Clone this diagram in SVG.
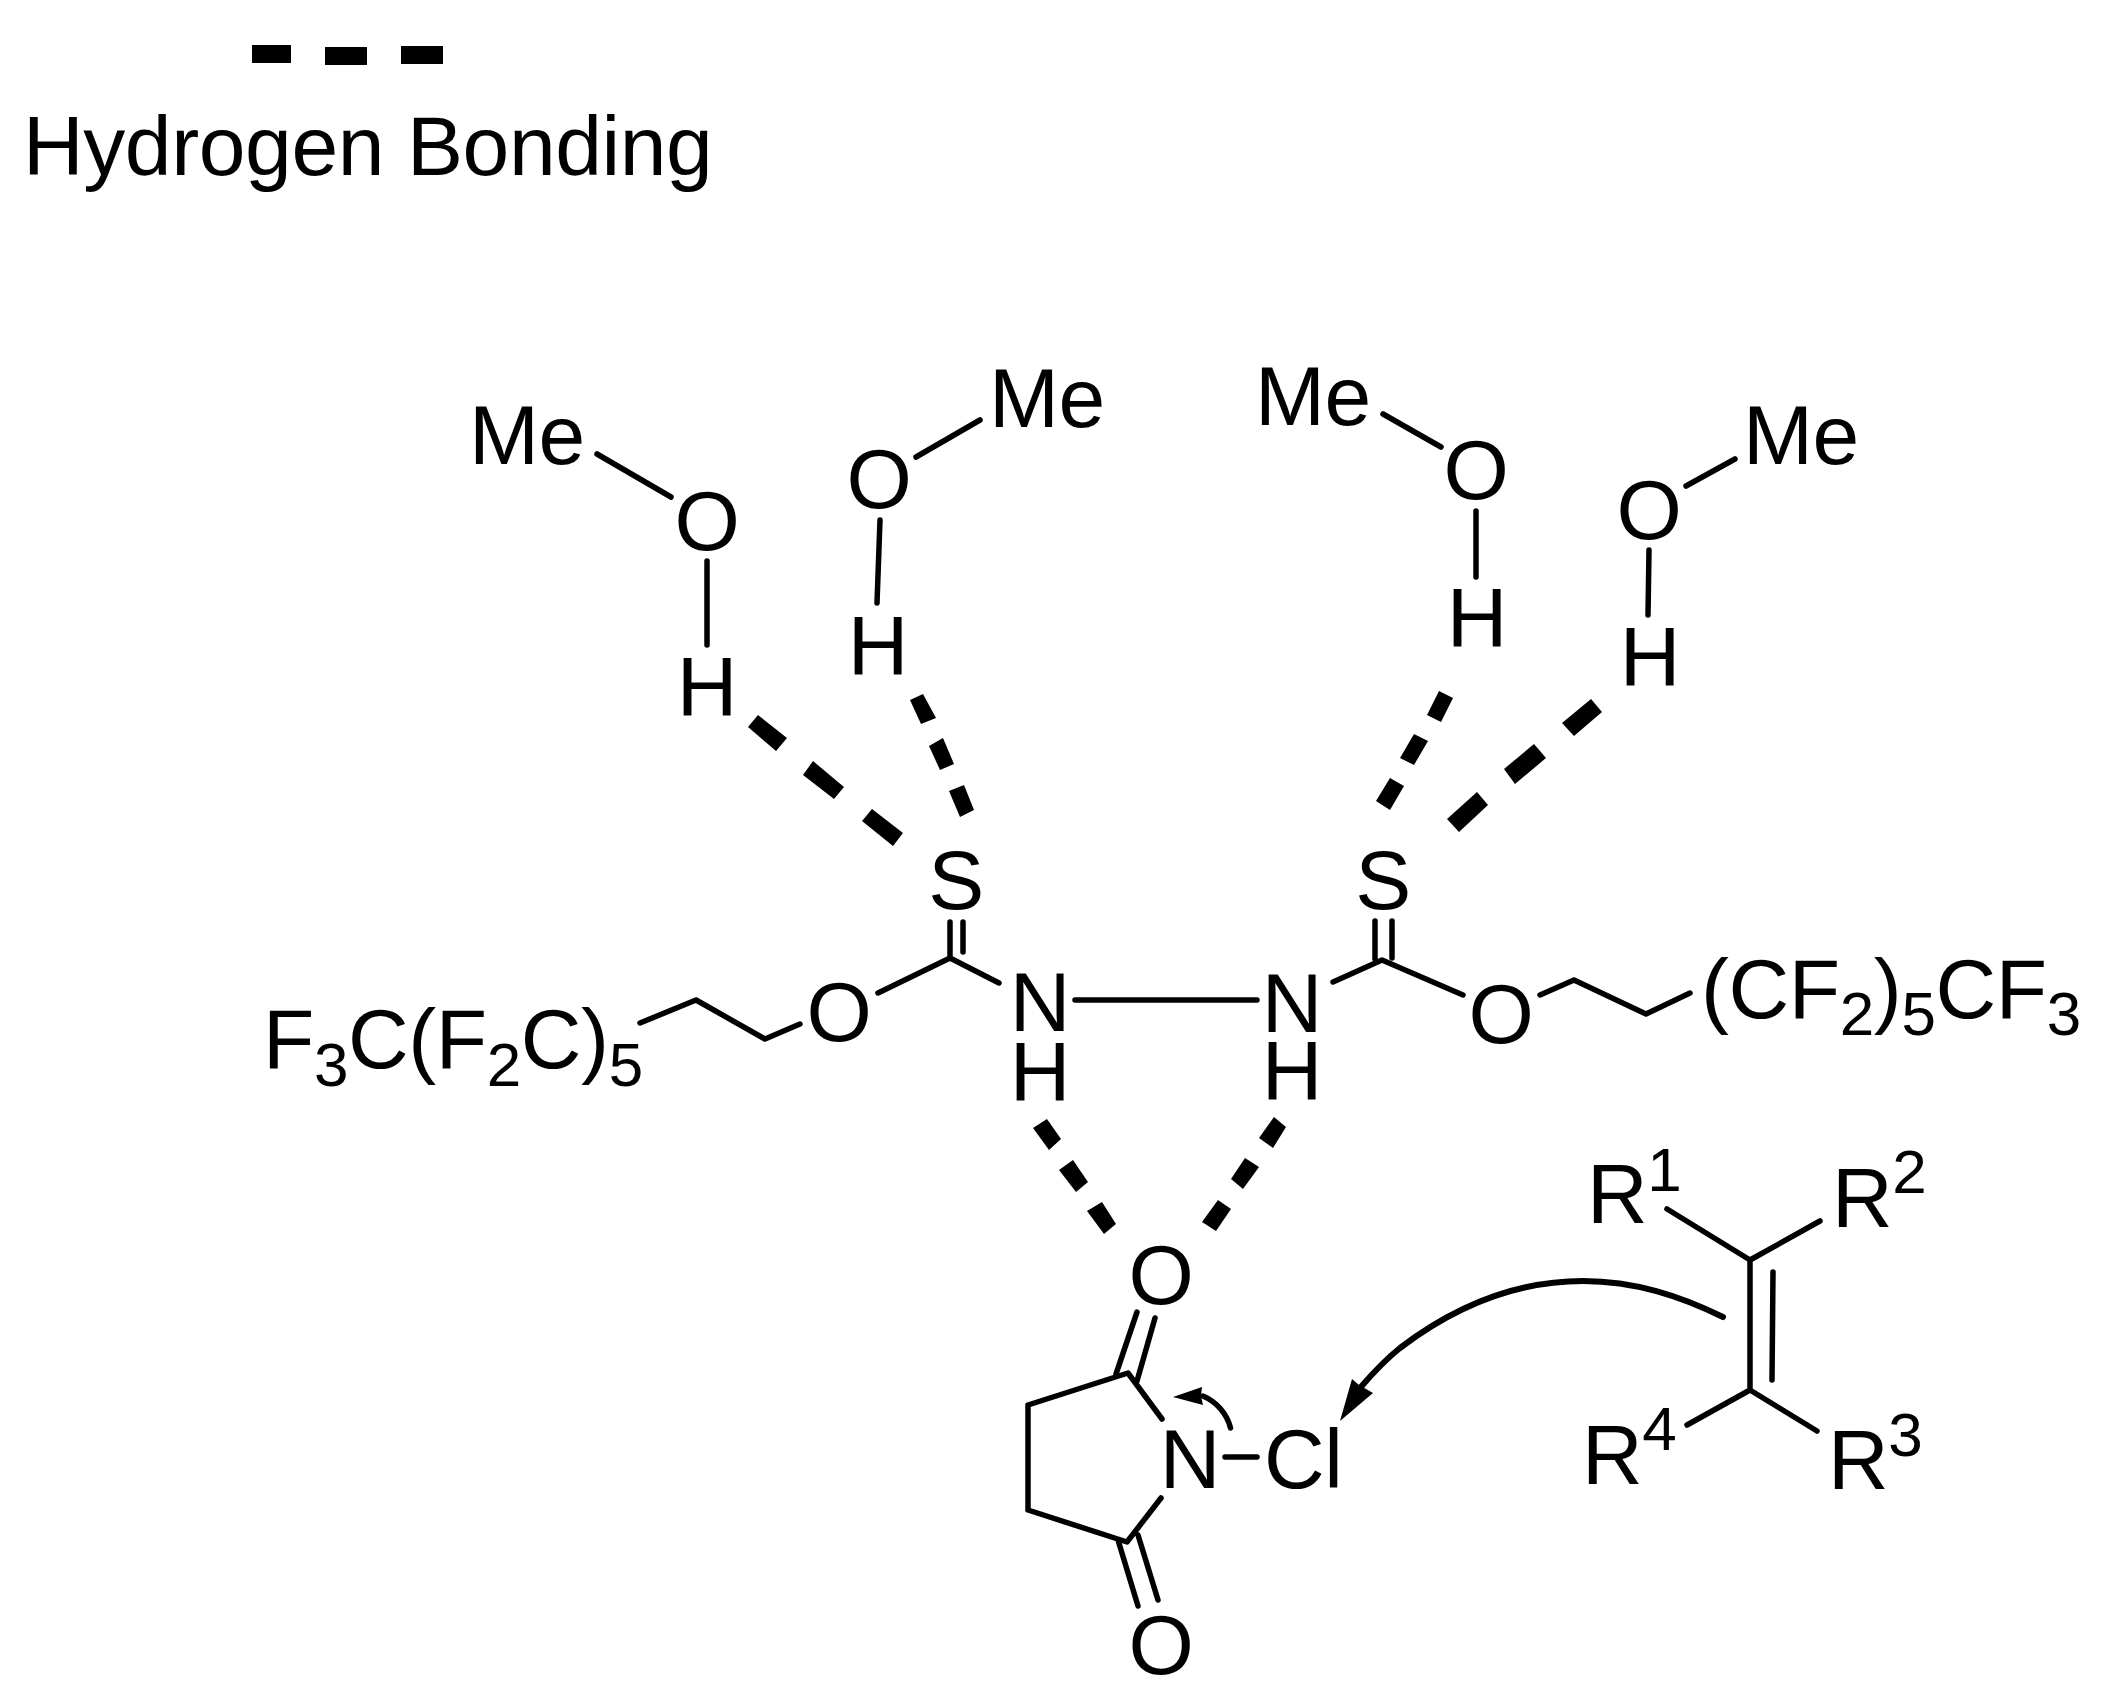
<svg xmlns="http://www.w3.org/2000/svg" width="2105" height="1700" viewBox="0 0 2105 1700">
<style>
text{font-family:"Liberation Sans",Arial,sans-serif;font-size:84px;letter-spacing:-.4px;fill:#000}
.m{text-anchor:middle}
.s{font-size:62px}
.b{fill:none;stroke:#000;stroke-width:5.5;stroke-linecap:round;stroke-linejoin:round}
.h{fill:#000;stroke:none}
</style>
<rect width="2105" height="1700" fill="#fff"/>
<g id="connectors">
<path class="b" d="M597 454L671 497M707 561V645M916 457L980 420M880 520L877 603"/>
<path class="b" d="M1383 414L1441 447M1476 511V577M1686 486L1735 459M1649 550L1648 615"/>
<path class="b" d="M640 1023L696 1000L765 1039L800 1024M878 993L950 958L999 983M950 922V958M963 922V952"/>
<path class="b" d="M1075 1000H1257"/>
<path class="b" d="M1333 982L1382 960L1463 995M1375 921V959M1392 921V958M1540 995L1574 980L1646 1014L1690 993"/>
<path class="b" d="M1137 1312L1116 1374M1155 1318L1137 1381M1028 1405V1510M1028 1405L1128 1373L1162 1419M1028 1510L1127 1542L1161 1498M1118 1540L1138 1606M1138 1535L1158 1600M1225 1457H1257"/>
<path class="b" d="M1667 1209L1750 1260L1820 1221M1750 1260V1389M1773 1272L1772 1380M1687 1425L1750 1390L1817 1431"/>
<path class="b" style="stroke-width:6" d="M1723 1317C1680 1296 1635 1281 1583 1281C1510 1281 1450 1310 1400 1348C1385 1360 1372 1374 1360 1388"/>
<polygon class="h" points="1340,1421 1352,1379 1359,1385 1373,1393"/>
<path class="b" d="M1230.5 1428C1227 1414 1217 1402 1203 1396"/>
<polygon class="h" points="1173,1397 1202,1387 1201,1396 1203,1405"/>
<g id="hbonds">
<polygon class="h" points="758,715 787,738 776,751 748,727"/>
<polygon class="h" points="813,761 844,787 834,799 803,775"/>
<polygon class="h" points="872,809 903,833 893,846 862,821"/>
<polygon class="h" points="923,694 936,718 921,724 910,700"/>
<polygon class="h" points="943,738 954,764 940,770 929,746"/>
<polygon class="h" points="964,785 974,810 960,817 949,791"/>
<polygon class="h" points="1439,691 1453,698 1441,722 1427,715"/>
<polygon class="h" points="1414,734 1428,741 1414,765 1400,758"/>
<polygon class="h" points="1390,778 1404,786 1390,810 1376,801"/>
<polygon class="h" points="1591,699 1602,712 1574,736 1562,723"/>
<polygon class="h" points="1534,744 1546,758 1515,784 1504,769"/>
<polygon class="h" points="1477,792 1488,805 1459,832 1447,819"/>
<polygon class="h" points="1047,1119 1061,1139 1049,1150 1033,1128"/>
<polygon class="h" points="1073,1160 1088,1182 1076,1192 1059,1170"/>
<polygon class="h" points="1102,1202 1116,1224 1104,1234 1087,1211"/>
<polygon class="h" points="1274,1117 1286,1127 1273,1148 1259,1138"/>
<polygon class="h" points="1245,1158 1259,1167 1243,1189 1231,1179"/>
<polygon class="h" points="1218,1200 1231,1209 1216,1231 1202,1222"/>
</g>
</g>
<g id="legend">
<rect x="252" y="45" width="39" height="18"/>
<rect x="325" y="47" width="42" height="18"/>
<rect x="401" y="46" width="42" height="18"/>
<text x="23" y="175">Hydrogen Bonding</text>
</g>
<g id="methanol1"><text x="469" y="464">Me</text><text class="m" x="707" y="550">O</text><text class="m" x="707" y="716">H</text></g>
<g id="methanol2"><text x="989" y="427">Me</text><text class="m" x="879" y="508">O</text><text class="m" x="878" y="675">H</text></g>
<g id="methanol3"><text x="1255" y="425">Me</text><text class="m" x="1476" y="499">O</text><text class="m" x="1477" y="647">H</text></g>
<g id="methanol4"><text x="1743" y="464">Me</text><text class="m" x="1649" y="539">O</text><text class="m" x="1650" y="686">H</text></g>
<g id="thiourea-left">
<text x="263" y="1068">F<tspan class="s" dy="18">3</tspan><tspan dy="-18">C(F</tspan><tspan class="s" dy="18">2</tspan><tspan dy="-18">C)</tspan><tspan class="s" dy="18">5</tspan></text>
<text class="m" x="839" y="1041">O</text>
<text class="m" x="956" y="909">S</text>
<text class="m" x="1040" y="1031">N</text>
<text class="m" x="1040" y="1101">H</text>
</g>
<g id="thiourea-right">
<text class="m" x="1292" y="1032">N</text>
<text class="m" x="1292" y="1100">H</text>
<text class="m" x="1383" y="909">S</text>
<text class="m" x="1501" y="1043">O</text>
<text x="1701" y="1018">(CF<tspan class="s" dy="17">2</tspan><tspan dy="-17">)</tspan><tspan class="s" dy="17">5</tspan><tspan dy="-17">CF</tspan><tspan class="s" dy="17">3</tspan></text>
</g>
<g id="ncs">
<text class="m" x="1161" y="1304">O</text>
<text class="m" x="1161" y="1674">O</text>
<text class="m" x="1190" y="1488">N</text>
<text x="1264" y="1488">Cl</text>
</g>
<g id="alkene">
<text x="1587" y="1223">R<tspan class="s" dy="-32">1</tspan></text>
<text x="1832" y="1227">R<tspan class="s" dy="-34">2</tspan></text>
<text x="1828" y="1489">R<tspan class="s" dy="-33">3</tspan></text>
<text x="1582" y="1484">R<tspan class="s" dy="-34">4</tspan></text>
</g>
</svg>
